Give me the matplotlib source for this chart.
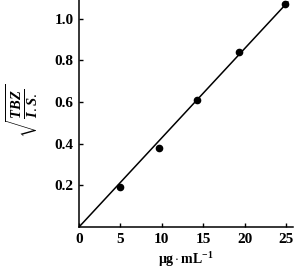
import numpy as np
import matplotlib
matplotlib.use("Agg")
import matplotlib.pyplot as plt

conc = [5, 9.6, 14.2, 19.3, 24.8]
ratio = [0.19, 0.38, 0.61, 0.84, 1.07]
xticks = [0, 5, 10, 15, 20, 25]
yticks = [0.2, 0.4, 0.6, 0.8, 1.0]

plt.rcParams['font.family'] = ['Liberation Serif', 'DejaVu Serif']
plt.rcParams['mathtext.fontset'] = 'custom'
plt.rcParams['mathtext.rm'] = 'Liberation Serif'
plt.rcParams['mathtext.it'] = 'Liberation Serif:italic:bold'
plt.rcParams['mathtext.bf'] = 'Liberation Serif:bold'

fig = plt.figure(figsize=(3.06, 2.70), dpi=100)
ax = fig.add_axes([0.258, 0.159, 0.699, 0.841])

x = np.array(conc)
y = np.array(ratio)
slope = np.sum(x * y) / np.sum(x * x)
lx = np.array([0, 25.2])
ax.plot(lx, slope * lx, color='black', lw=1.1)
ax.plot(conc, ratio, 'o', color='black', ms=4.5)

ax.set_xlim(0, 25.8)
ax.set_ylim(0, 1.09)
ax.set_xticks(xticks)
ax.set_yticks(yticks)
ax.set_xticklabels([str(t) for t in xticks], fontweight='bold', fontsize=11)
ax.set_yticklabels([f"{t:.1f}" for t in yticks], fontweight='bold', fontsize=11)
ax.tick_params(direction='in', length=3, width=1, pad=4)
for s in ['top', 'right']:
    ax.spines[s].set_visible(False)
for s in ['left', 'bottom']:
    ax.spines[s].set_linewidth(1.1)

ax.set_xlabel(r'$\mathbf{\mu g\cdot mL^{-1}}$', fontsize=10, labelpad=3)
fig.text(0.07, 0.59, r'$\sqrt{\frac{TBZ}{I.S.}}$', fontsize=15,
         rotation=90, ha='center', va='center')

fig.savefig('out.png', dpi=100)
